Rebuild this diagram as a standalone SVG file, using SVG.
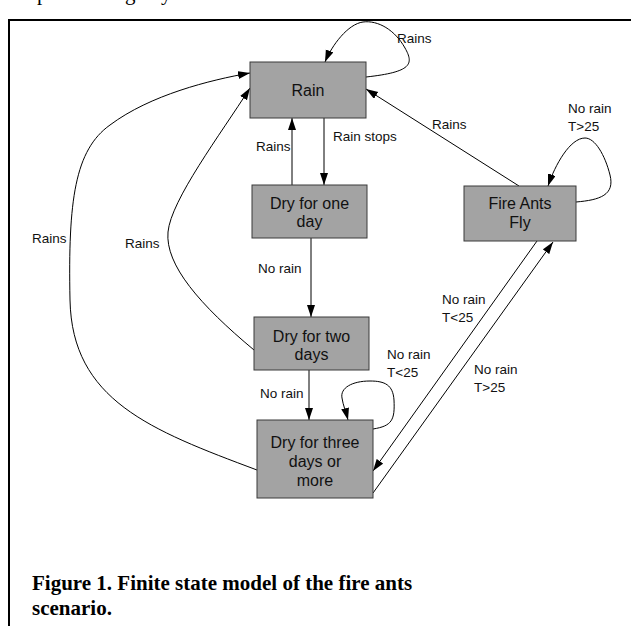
<svg xmlns="http://www.w3.org/2000/svg" width="631" height="626" viewBox="0 0 631 626">
<style>
.node rect{fill:#a3a3a3;stroke:#3a3a3a;stroke-width:1}
.node text{font-family:"Liberation Sans",Arial,sans-serif;font-size:16px;fill:#111;text-anchor:middle}
.edge{fill:none;stroke:#000;stroke-width:1}
.lbl{font-family:"Liberation Sans",Arial,sans-serif;font-size:13.5px;fill:#111}
.cap{font-family:"Liberation Serif","Times New Roman",serif;font-size:21px;font-weight:bold;fill:#000}
</style>
<defs>
<marker id="ah" markerUnits="userSpaceOnUse" markerWidth="13" markerHeight="9" refX="12" refY="4" orient="auto">
<path d="M0,0 L12,4 L0,8 z" fill="#000"/>
</marker>
</defs>
<rect width="631" height="626" fill="#fff"/>
<text font-family="Liberation Serif,serif" font-size="21" y="0"><tspan x="37">p</tspan><tspan x="125">g</tspan><tspan x="161">y</tspan></text>
<path d="M9,626 L9,20 L631,20" fill="none" stroke="#000" stroke-width="2"/>
<g id="connectors">
<path class="edge" d="M366,77 C412,72 414,64 405,48 C395,30 378,20 363,22 C348,24 332,45 325,62" marker-end="url(#ah)"/>
<path class="edge" d="M324,118 L324,185" marker-end="url(#ah)"/>
<path class="edge" d="M292,185 L292,118" stroke="#555" marker-end="url(#ah)"/>
<path class="edge" d="M311,238 L311,317" marker-end="url(#ah)"/>
<path class="edge" d="M309,370 L309,420" marker-end="url(#ah)"/>
<path class="edge" d="M519,186 L366,89" marker-end="url(#ah)"/>
<path class="edge" d="M576,202 C600,200 615,195 610,175 C605,155 595,138 585,138 C570,138 555,165 548,186" marker-end="url(#ah)"/>
<path class="edge" d="M373,429 C392,426 395,420 394,400 C393,385 385,381 370,381 C352,381 340,388 342,398 C343,405 346,412 348,420" marker-end="url(#ah)"/>
<path class="edge" d="M537,241 L373,471" marker-end="url(#ah)"/>
<path class="edge" d="M373,493 L553,242" marker-end="url(#ah)"/>
<path class="edge" d="M254,350 C200,305 165,265 168,232 C171,200 220,135 250,88" marker-end="url(#ah)"/>
<path class="edge" d="M257,470 C150,430 72,400 70,300 C68,200 75,150 110,125 C150,95 210,80 250,73" marker-end="url(#ah)"/>
<text class="lbl" x="397" y="43">Rains</text>
<text class="lbl" x="333" y="141">Rain stops</text>
<text class="lbl" x="256" y="151">Rains</text>
<text class="lbl" x="432" y="129">Rains</text>
<text class="lbl" x="568" y="113">No rain</text>
<text class="lbl" x="568" y="131">T&gt;25</text>
<text class="lbl" x="32" y="243">Rains</text>
<text class="lbl" x="125" y="248">Rains</text>
<text class="lbl" x="258" y="273">No rain</text>
<text class="lbl" x="260" y="398">No rain</text>
<text class="lbl" x="387" y="359">No rain</text>
<text class="lbl" x="387" y="377">T&lt;25</text>
<text class="lbl" x="442" y="304">No rain</text>
<text class="lbl" x="442" y="322">T&lt;25</text>
<text class="lbl" x="474" y="374">No rain</text>
<text class="lbl" x="474" y="392">T&gt;25</text>
</g>
<g id="rain" class="node"><rect x="250" y="62" width="116" height="56"/><text x="308" y="96">Rain</text></g>
<g id="dry1" class="node"><rect x="252" y="185" width="115" height="53"/><text x="309.5" y="209">Dry for one</text><text x="309.5" y="227">day</text></g>
<g id="dry2" class="node"><rect x="254" y="317" width="115" height="53"/><text x="311.5" y="341.5">Dry for two</text><text x="311.5" y="360">days</text></g>
<g id="dry3" class="node"><rect x="257" y="420" width="116" height="78"/><text x="315" y="448">Dry for three</text><text x="315" y="467">days or</text><text x="315" y="486">more</text></g>
<g id="fire" class="node"><rect x="464" y="186" width="112" height="55"/><text x="520" y="209">Fire Ants</text><text x="520" y="228">Fly</text></g>
<text class="cap" x="32" y="590">Figure 1. Finite state model of the fire ants</text>
<text class="cap" x="32" y="615">scenario.</text>
</svg>
